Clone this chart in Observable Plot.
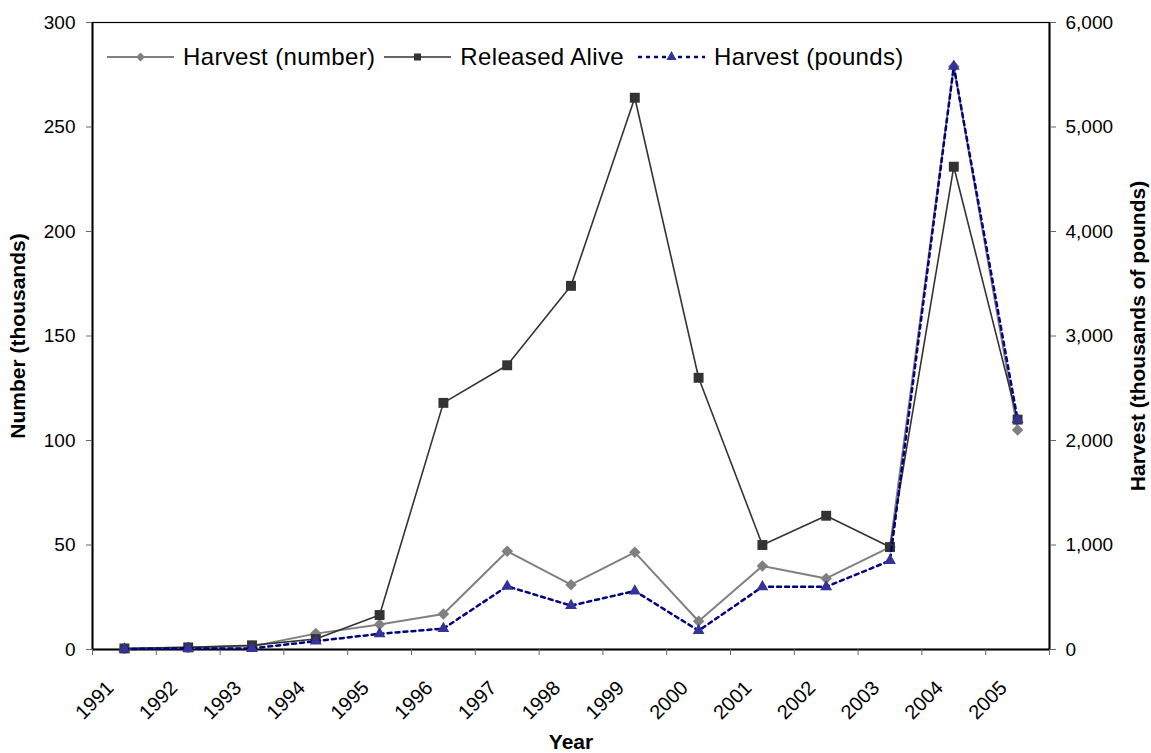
<!DOCTYPE html>
<html><head><meta charset="utf-8">
<script src="https://cdn.jsdelivr.net/npm/d3@7"></script>
<script src="https://cdn.jsdelivr.net/npm/@observablehq/plot@0.6"></script>
<style>
body{margin:0;background:#fff;font-family:"Liberation Sans",Arial,sans-serif;}
#wrap{position:relative;width:1151px;height:753px;}
#legend{position:absolute;left:107px;top:43px;display:flex;align-items:center;font-size:24px;letter-spacing:0.35px;color:#000;}
.item{display:flex;align-items:center;margin-right:9px;}
.item:nth-child(2){margin-right:14px;}
.item svg{margin-right:9px;display:block;}
</style></head><body><div id="wrap"><div id="chart"></div><div id="legend"></div></div>
<script>
const years = [1991,1992,1993,1994,1995,1996,1997,1998,1999,2000,2001,2002,2003,2004,2005];
const harvestNumber = [0.5,1,1.5,7.6,12,17,47,31,46.5,13.5,40,34,49,279,105];
const releasedAlive = [0.5,1,2,5,16.5,118,136,174,264,130,50,64,49,231,110];
const harvestPounds = [5,10,10,80,150,200,605,420,560,180,600,600,850,5580,2200];
const leftTicks = [0,50,100,150,200,250,300];
const rightTicks = [0,1000,2000,3000,4000,5000,6000];
const seriesNames = ["Harvest (number)","Released Alive","Harvest (pounds)"];
const seriesColors = ["#808080","#333333","#000080"];
const markerColors = ["#808080","#333333","#333399"];

const ratio = rightTicks[rightTicks.length-1] / leftTicks[leftTicks.length-1];
const rows = years.map((year,i) => ({year, number: harvestNumber[i], released: releasedAlive[i], pounds: harvestPounds[i] / ratio}));
const boundaries = [years[0]-0.5, ...years.map(y => y+0.5)];
const xDomain = [boundaries[0], boundaries[boundaries.length-1]];

const chart = Plot.plot({
  width: 1151, height: 753,
  marginLeft: 92, marginRight: 102, marginTop: 22, marginBottom: 104,
  style: {fontFamily: "'Liberation Sans', Arial, sans-serif", fontSize: "19px", color: "#000", background: "#fff", overflow: "visible"},
  x: {type: "linear", domain: xDomain, axis: null},
  y: {domain: [0, leftTicks[leftTicks.length-1]], axis: null},
  marks: [
    Plot.frame({stroke: "#000", strokeWidth: 1.2}),
    Plot.ruleY([0], {stroke: "#000", strokeWidth: 2.2}),
    Plot.ruleX(xDomain, {stroke: "#000", strokeWidth: 2}),
    Plot.axisX({ticks: boundaries, tickSize: 6, tickFormat: () => "", stroke: "#666", label: null}),
    Plot.axisX({ticks: years, tickSize: 0, tickPadding: 30, tickRotate: -45, dx: -14, dy: 5, tickFormat: d => String(d), label: null, fontSize: 20}),
    Plot.axisY({anchor: "left", ticks: leftTicks, tickSize: 6, tickPadding: 11, stroke: "#666", label: null, fontSize: 19}),
    Plot.axisY({anchor: "right", ticks: rightTicks.map(v => v / ratio), tickFormat: d => d3.format(",")(Math.round(d * ratio)), tickSize: 6, tickPadding: 10, stroke: "#666", label: null, fontSize: 19}),
    Plot.text(["Number (thousands)"], {frameAnchor: "left", dx: -74, rotate: -90, textAnchor: "middle", lineAnchor: "middle", fontWeight: "bold", fontSize: 21}),
    Plot.text(["Harvest (thousands of pounds)"], {frameAnchor: "right", dx: 89, rotate: -90, textAnchor: "middle", lineAnchor: "middle", fontWeight: "bold", fontSize: 21}),
    Plot.text(["Year"], {frameAnchor: "bottom", dy: 93, textAnchor: "middle", lineAnchor: "middle", fontWeight: "bold", fontSize: 21}),
    Plot.line(rows, {x: "year", y: "number", stroke: seriesColors[0], strokeWidth: 2}),
    Plot.dot(rows, {x: "year", y: "number", symbol: "diamond2", r: 5.2, fill: markerColors[0], stroke: "none"}),
    Plot.line(rows, {x: "year", y: "released", stroke: seriesColors[1], strokeWidth: 1.6}),
    Plot.dot(rows, {x: "year", y: "released", symbol: "square", r: 5.6, fill: markerColors[1], stroke: "none"}),
    Plot.line(rows, {x: "year", y: "pounds", stroke: seriesColors[2], strokeWidth: 2.5, strokeDasharray: "4,4"}),
    Plot.dot(rows, {x: "year", y: "pounds", symbol: "triangle", r: 4.4, fill: markerColors[2], stroke: "none"})
  ]
});
document.getElementById("chart").appendChild(chart);

// Legend
const symbols = [d3.symbolDiamond2, d3.symbolSquare, d3.symbolTriangle];
const sizes = [50, 50, 45];
const dashes = [null, null, "4,4"];
const widths = [2, 1.6, 2.5];
const legend = d3.select("#legend");
seriesNames.forEach((name, i) => {
  const item = legend.append("div").attr("class", "item");
  const svg = item.append("svg").attr("width", 67).attr("height", 20);
  svg.append("line").attr("x1", 0).attr("x2", 67).attr("y1", 10).attr("y2", 10)
    .attr("stroke", seriesColors[i]).attr("stroke-width", widths[i]).attr("stroke-dasharray", dashes[i]);
  svg.append("path").attr("transform", "translate(33.5,10)").attr("d", d3.symbol(symbols[i], sizes[i])()).attr("fill", markerColors[i]);
  item.append("span").text(name);
});
</script></body></html>
